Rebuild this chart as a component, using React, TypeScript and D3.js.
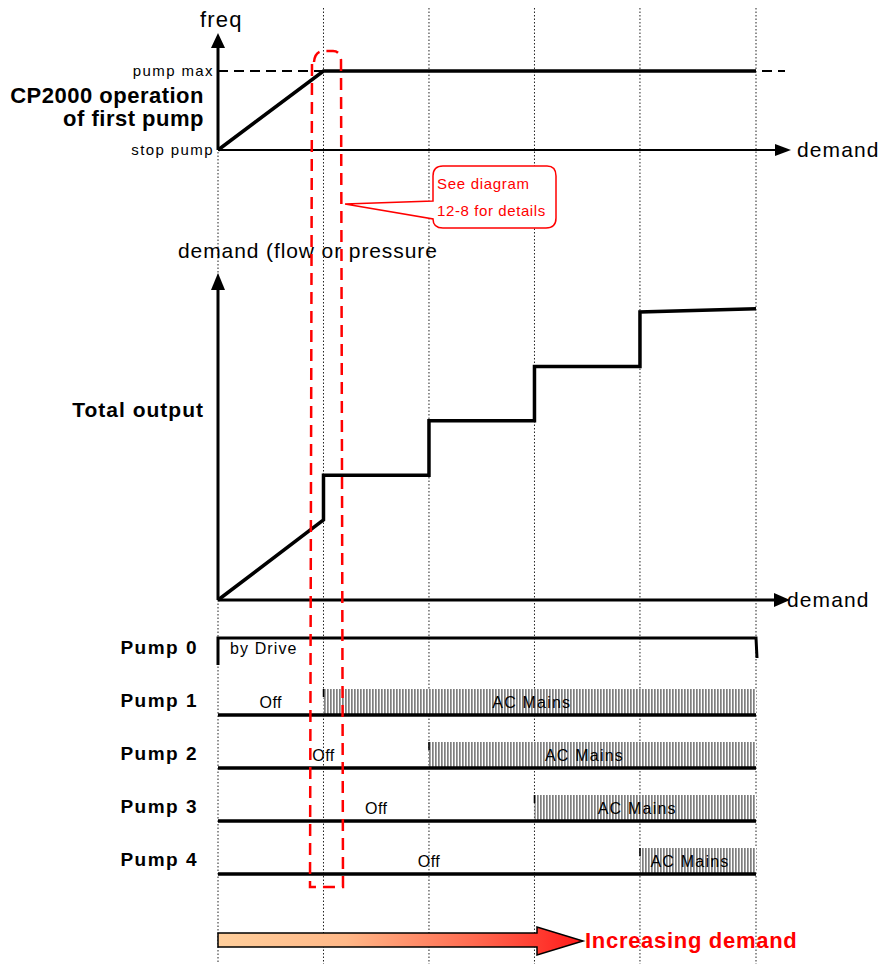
import React from "react";
import * as d3 from "d3";

// ---- data ----
const stageBounds = [0, 1, 2, 3, 4, 5.1];
const freqPoints = [
  { d: 0, v: 0 },
  { d: 1, v: 1 },
  { d: 5.1, v: 1 },
];
const outputPoints = [
  { d: 0, v: 0 },
  { d: 1, v: 0.25 },
  { d: 1, v: 0.39 },
  { d: 2, v: 0.39 },
  { d: 2, v: 0.56 },
  { d: 3, v: 0.56 },
  { d: 3, v: 0.73 },
  { d: 4, v: 0.73 },
  { d: 4, v: 0.9 },
  { d: 5.1, v: 0.91 },
];
const pumpNames = ["Pump 0", "Pump 1", "Pump 2", "Pump 3", "Pump 4"];
const mainsStart = [null, 1, 2, 3, 4];
const freqTickLabels = ["stop pump", "pump max"];
const freqTickValues = [0, 1];

const FONT = "'Liberation Sans', Arial, sans-serif";

export default function App() {
  const W = 884, H = 964;
  const x = d3.scaleLinear().domain([0, 5.1]).range([218, 756]);
  const yF = d3.scaleLinear().domain([0, 1]).range([150, 71]);
  const yO = d3.scaleLinear().domain([0, 1]).range([600, 280]);
  const row = d3.scalePoint<string>().domain(pumpNames).range([662, 874]);
  const xEnd = x(5.1);

  const lineF = d3.line<{ d: number; v: number }>().x(p => x(p.d)).y(p => yF(p.v));
  const lineO = d3.line<{ d: number; v: number }>().x(p => x(p.d)).y(p => yO(p.v));

  return (
    <svg width={W} height={H} style={{ display: "block", position: "absolute", left: 0, top: 0, background: "#fff" }} fontFamily={FONT}>
      <defs>
        <pattern id="hatch" width="3" height="4" patternUnits="userSpaceOnUse">
          <rect width="3" height="4" fill="#fff" />
          <rect width="1.7" height="4" fill="#7f7f7f" />
        </pattern>
        <linearGradient id="arrowGrad" x1="0" x2="1" y1="0" y2="0">
          <stop offset="0" stopColor="#ffcf9c" />
          <stop offset="0.35" stopColor="#ffb888" />
          <stop offset="0.7" stopColor="#ff6a50" />
          <stop offset="1" stopColor="#ff1a1a" />
        </linearGradient>
      </defs>
      <rect width={W} height={H} fill="#fff" />

      {/* vertical dotted stage lines */}
      {stageBounds.map((s, i) => (
        <line key={"v" + i} x1={x(s)} x2={x(s)} y1={i === 0 ? 152 : 8} y2={H} stroke="#222" strokeWidth={1} strokeDasharray="1.5,2" />
      ))}

      {/* ---- top panel ---- */}
      <text x={200} y={27} fontSize={22} letterSpacing={1.2} fill="#000">freq</text>
      <line x1={x(0)} x2={x(0)} y1={150} y2={46} stroke="#000" strokeWidth={3} />
      <path d={`M${x(0) - 7},48 L${x(0)},33 L${x(0) + 7},48 Z`} fill="#000" />
      <line x1={x(0)} x2={776} y1={yF(0)} y2={yF(0)} stroke="#000" strokeWidth={2} />
      <path d={`M775,${yF(0) - 6} L791,${yF(0)} L775,${yF(0) + 6} Z`} fill="#000" />
      <text x={797} y={yF(0) + 7} fontSize={21} letterSpacing={1.1} fill="#000">demand</text>
      <line x1={x(0)} x2={785} y1={yF(1)} y2={yF(1)} stroke="#000" strokeWidth={2} strokeDasharray="10,6" />
      <path d={lineF(freqPoints) || ""} fill="none" stroke="#000" strokeWidth={3.5} />
      {freqTickValues.map((v, i) => (
        <text key={"ft" + i} x={214} y={yF(v) + 5} fontSize={15} textAnchor="end" letterSpacing={1.4} fill="#000">{freqTickLabels[i]}</text>
      ))}
      <text x={204} y={103} fontSize={22} fontWeight="bold" textAnchor="end" letterSpacing={0.5} fill="#000">CP2000 operation</text>
      <text x={204} y={126} fontSize={22} fontWeight="bold" textAnchor="end" letterSpacing={0.5} fill="#000">of first pump</text>

      {/* ---- middle panel ---- */}
      <text x={178} y={258} fontSize={21} letterSpacing={0.9} fill="#000">demand (flow or pressure</text>
      <line x1={x(0)} x2={x(0)} y1={yO(0)} y2={288} stroke="#000" strokeWidth={3} />
      <path d={`M${x(0) - 7},290 L${x(0)},273 L${x(0) + 7},290 Z`} fill="#000" />
      <line x1={x(0)} x2={776} y1={yO(0)} y2={yO(0)} stroke="#000" strokeWidth={3} />
      <path d={`M774,${yO(0) - 7} L790,${yO(0)} L774,${yO(0) + 7} Z`} fill="#000" />
      <text x={787} y={yO(0) + 7} fontSize={21} letterSpacing={1.1} fill="#000">demand</text>
      <path d={lineO(outputPoints) || ""} fill="none" stroke="#000" strokeWidth={3.5} />
      <text x={204} y={417} fontSize={21} fontWeight="bold" textAnchor="end" letterSpacing={1} fill="#000">Total output</text>

      {/* ---- pump rows ---- */}
      {pumpNames.map((p, i) => {
        const yb = row(p) as number;
        if (i === 0) {
          const yt = yb - 24;
          return (
            <g key={p}>
              <text x={198} y={yb - 8} fontSize={19} fontWeight="bold" textAnchor="end" letterSpacing={1.5} fill="#000">{p}</text>
              <path d={`M${x(0)},${yt + 27} L${x(0)},${yt} L${xEnd},${yt} L${xEnd + 1},${yt + 20}`} fill="none" stroke="#000" strokeWidth={3} />
              <text x={230} y={yt + 16} fontSize={16} letterSpacing={1.1} fill="#000">by Drive</text>
            </g>
          );
        }
        const s = mainsStart[i] as number;
        return (
          <g key={p}>
            <text x={198} y={yb - 8} fontSize={19} fontWeight="bold" textAnchor="end" letterSpacing={1.5} fill="#000">{p}</text>
            <rect x={x(s)} y={yb - 26} width={xEnd - x(s)} height={26} fill="url(#hatch)" />
            <line x1={x(s)} x2={x(s)} y1={yb - 26} y2={yb - 18} stroke="#000" strokeWidth={1.5} />
            <text x={(x(0) + x(s)) / 2} y={yb - 7} fontSize={16} textAnchor="middle" letterSpacing={0.5} fill="#000">Off</text>
            <text x={(x(s) + xEnd) / 2 - 8} y={yb - 7} fontSize={16} textAnchor="middle" letterSpacing={1.2} fill="#000">AC Mains</text>
            <line x1={x(0)} x2={xEnd} y1={yb} y2={yb} stroke="#000" strokeWidth={3.5} />
          </g>
        );
      })}

      {/* ---- red dashed highlight ---- */}
      <path d="M314,62 Q315,51 324,51 L333,51 Q340,51 341,60 L343,887 L310,887 L312,62 Z" fill="none" stroke="#ff0000" strokeWidth={2.5} strokeDasharray="12,7" />
      {/* callout */}
      <path d="M345,204 L433,201 L433,176 Q433,166 443,166 L547,166 Q556,166 556,176 L556,218 Q556,228 546,228 L443,228 Q433,228 433,219 L345,204" fill="#fff" stroke="#ff0000" strokeWidth={1.5} />
      <text x={437} y={189} fontSize={15} letterSpacing={0.7} fill="#ff0000">See diagram</text>
      <text x={437} y={216} fontSize={15} letterSpacing={0.6} fill="#ff0000">12-8 for details</text>

      {/* ---- bottom arrow ---- */}
      <path d={`M${x(0)},933 L537,933 L537,927 L583,941 L537,955 L537,947 L${x(0)},947 Z`} fill="url(#arrowGrad)" stroke="#000" strokeWidth={1.5} />
      <text x={585} y={948} fontSize={22} fontWeight="bold" letterSpacing={0.7} fill="#ff0000">Increasing demand</text>
    </svg>
  );
}
